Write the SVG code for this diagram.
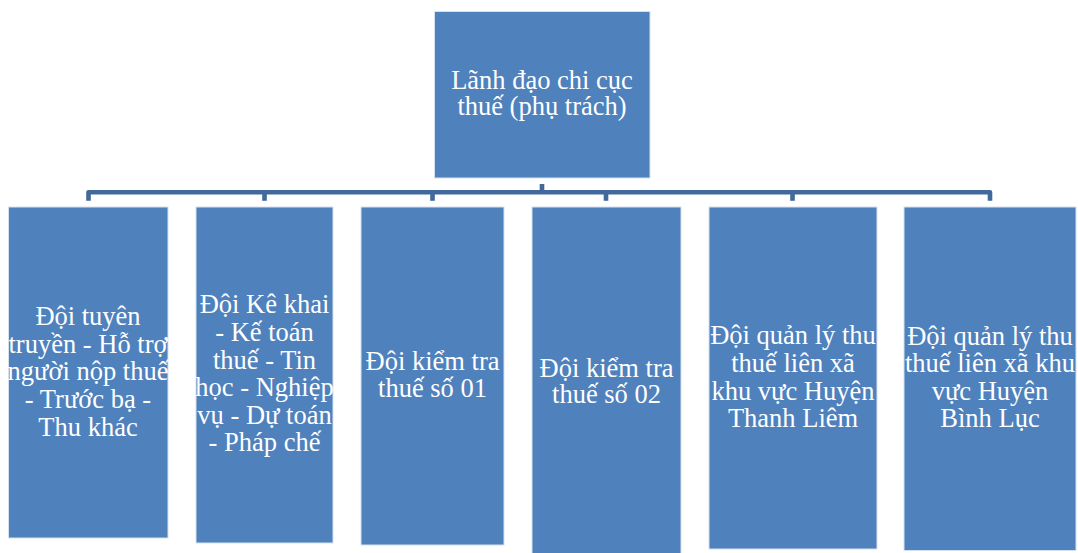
<svg xmlns="http://www.w3.org/2000/svg" width="1078" height="553" viewBox="0 0 1078 553">
  <style>
    .box { fill: #4f81bd; stroke: #d6e1ef; stroke-width: 1; }
    .lbl { font-size: 26.5px; fill: #ffffff; text-anchor: middle; }
    .conn { fill: none; stroke: #41699b; stroke-width: 4.6; stroke-linejoin: round; }
  </style>
  <rect width="1078" height="553" fill="#ffffff"/>

  <!-- connectors: trunk from the head box and the distribution bar with drops -->
  <g id="connectors">
    <line class="conn" x1="542" y1="184" x2="542" y2="192"/>
    <path class="conn" d="M88.5,200.8 V192.2 H990 V200.8"/>
    <line class="conn" x1="264.5" y1="192.2" x2="264.5" y2="200.8"/>
    <line class="conn" x1="432.5" y1="192.2" x2="432.5" y2="200.8"/>
    <line class="conn" x1="606" y1="192.2" x2="606" y2="200.8"/>
    <line class="conn" x1="792.5" y1="192.2" x2="792.5" y2="200.8"/>
  </g>

  <g font-family="'Liberation Serif', 'DejaVu Serif', serif">
  <g id="lanh-dao">
    <rect class="box" x="434.5" y="11.5" width="215.5" height="166.5"/>
    <text class="lbl" x="542"><tspan x="542" y="89.3">Lãnh đạo chi cục</tspan><tspan x="542" y="115.3">thuế (phụ trách)</tspan></text>
  </g>

  <g id="doi-tuyen-truyen">
    <rect class="box" x="8.5" y="207" width="159.5" height="331"/>
    <text class="lbl"><tspan x="88" y="325">Đội tuyên</tspan><tspan x="88" y="352.7">truyền - Hỗ trợ</tspan><tspan x="88" y="380.3">người nộp thuế</tspan><tspan x="88" y="408">- Trước bạ -</tspan><tspan x="88" y="435.7">Thu khác</tspan></text>
  </g>

  <g id="doi-ke-khai">
    <rect class="box" x="196" y="207" width="137" height="336"/>
    <text class="lbl"><tspan x="264.5" y="313.3">Đội Kê khai</tspan><tspan x="264.5" y="341">- Kế toán</tspan><tspan x="264.5" y="368.5">thuế - Tin</tspan><tspan x="264.5" y="396">học - Nghiệp</tspan><tspan x="264.5" y="423.7">vụ - Dự toán</tspan><tspan x="264.5" y="451.4">- Pháp chế</tspan></text>
  </g>

  <g id="doi-kiem-tra-01">
    <rect class="box" x="361" y="207" width="143" height="338"/>
    <text class="lbl"><tspan x="432.5" y="370">Đội kiểm tra</tspan><tspan x="432.5" y="396.7">thuế số 01</tspan></text>
  </g>

  <g id="doi-kiem-tra-02">
    <rect class="box" x="532" y="207" width="149" height="350"/>
    <text class="lbl"><tspan x="606.5" y="376.7">Đội kiểm tra</tspan><tspan x="606.5" y="403.4">thuế số 02</tspan></text>
  </g>

  <g id="doi-thanh-liem">
    <rect class="box" x="709" y="207" width="168" height="342"/>
    <text class="lbl"><tspan x="793" y="344.3">Đội quản lý thu</tspan><tspan x="793" y="371.8">thuế liên xã</tspan><tspan x="793" y="399.6">khu vực Huyện</tspan><tspan x="793" y="427">Thanh Liêm</tspan></text>
  </g>

  <g id="doi-binh-luc">
    <rect class="box" x="904" y="207" width="172" height="343.5"/>
    <text class="lbl"><tspan x="990" y="344.6">Đội quản lý thu</tspan><tspan x="990" y="372">thuế liên xã khu</tspan><tspan x="990" y="399.8">vực Huyện</tspan><tspan x="990" y="427.3">Bình Lục</tspan></text>
  </g>
  </g>
</svg>
